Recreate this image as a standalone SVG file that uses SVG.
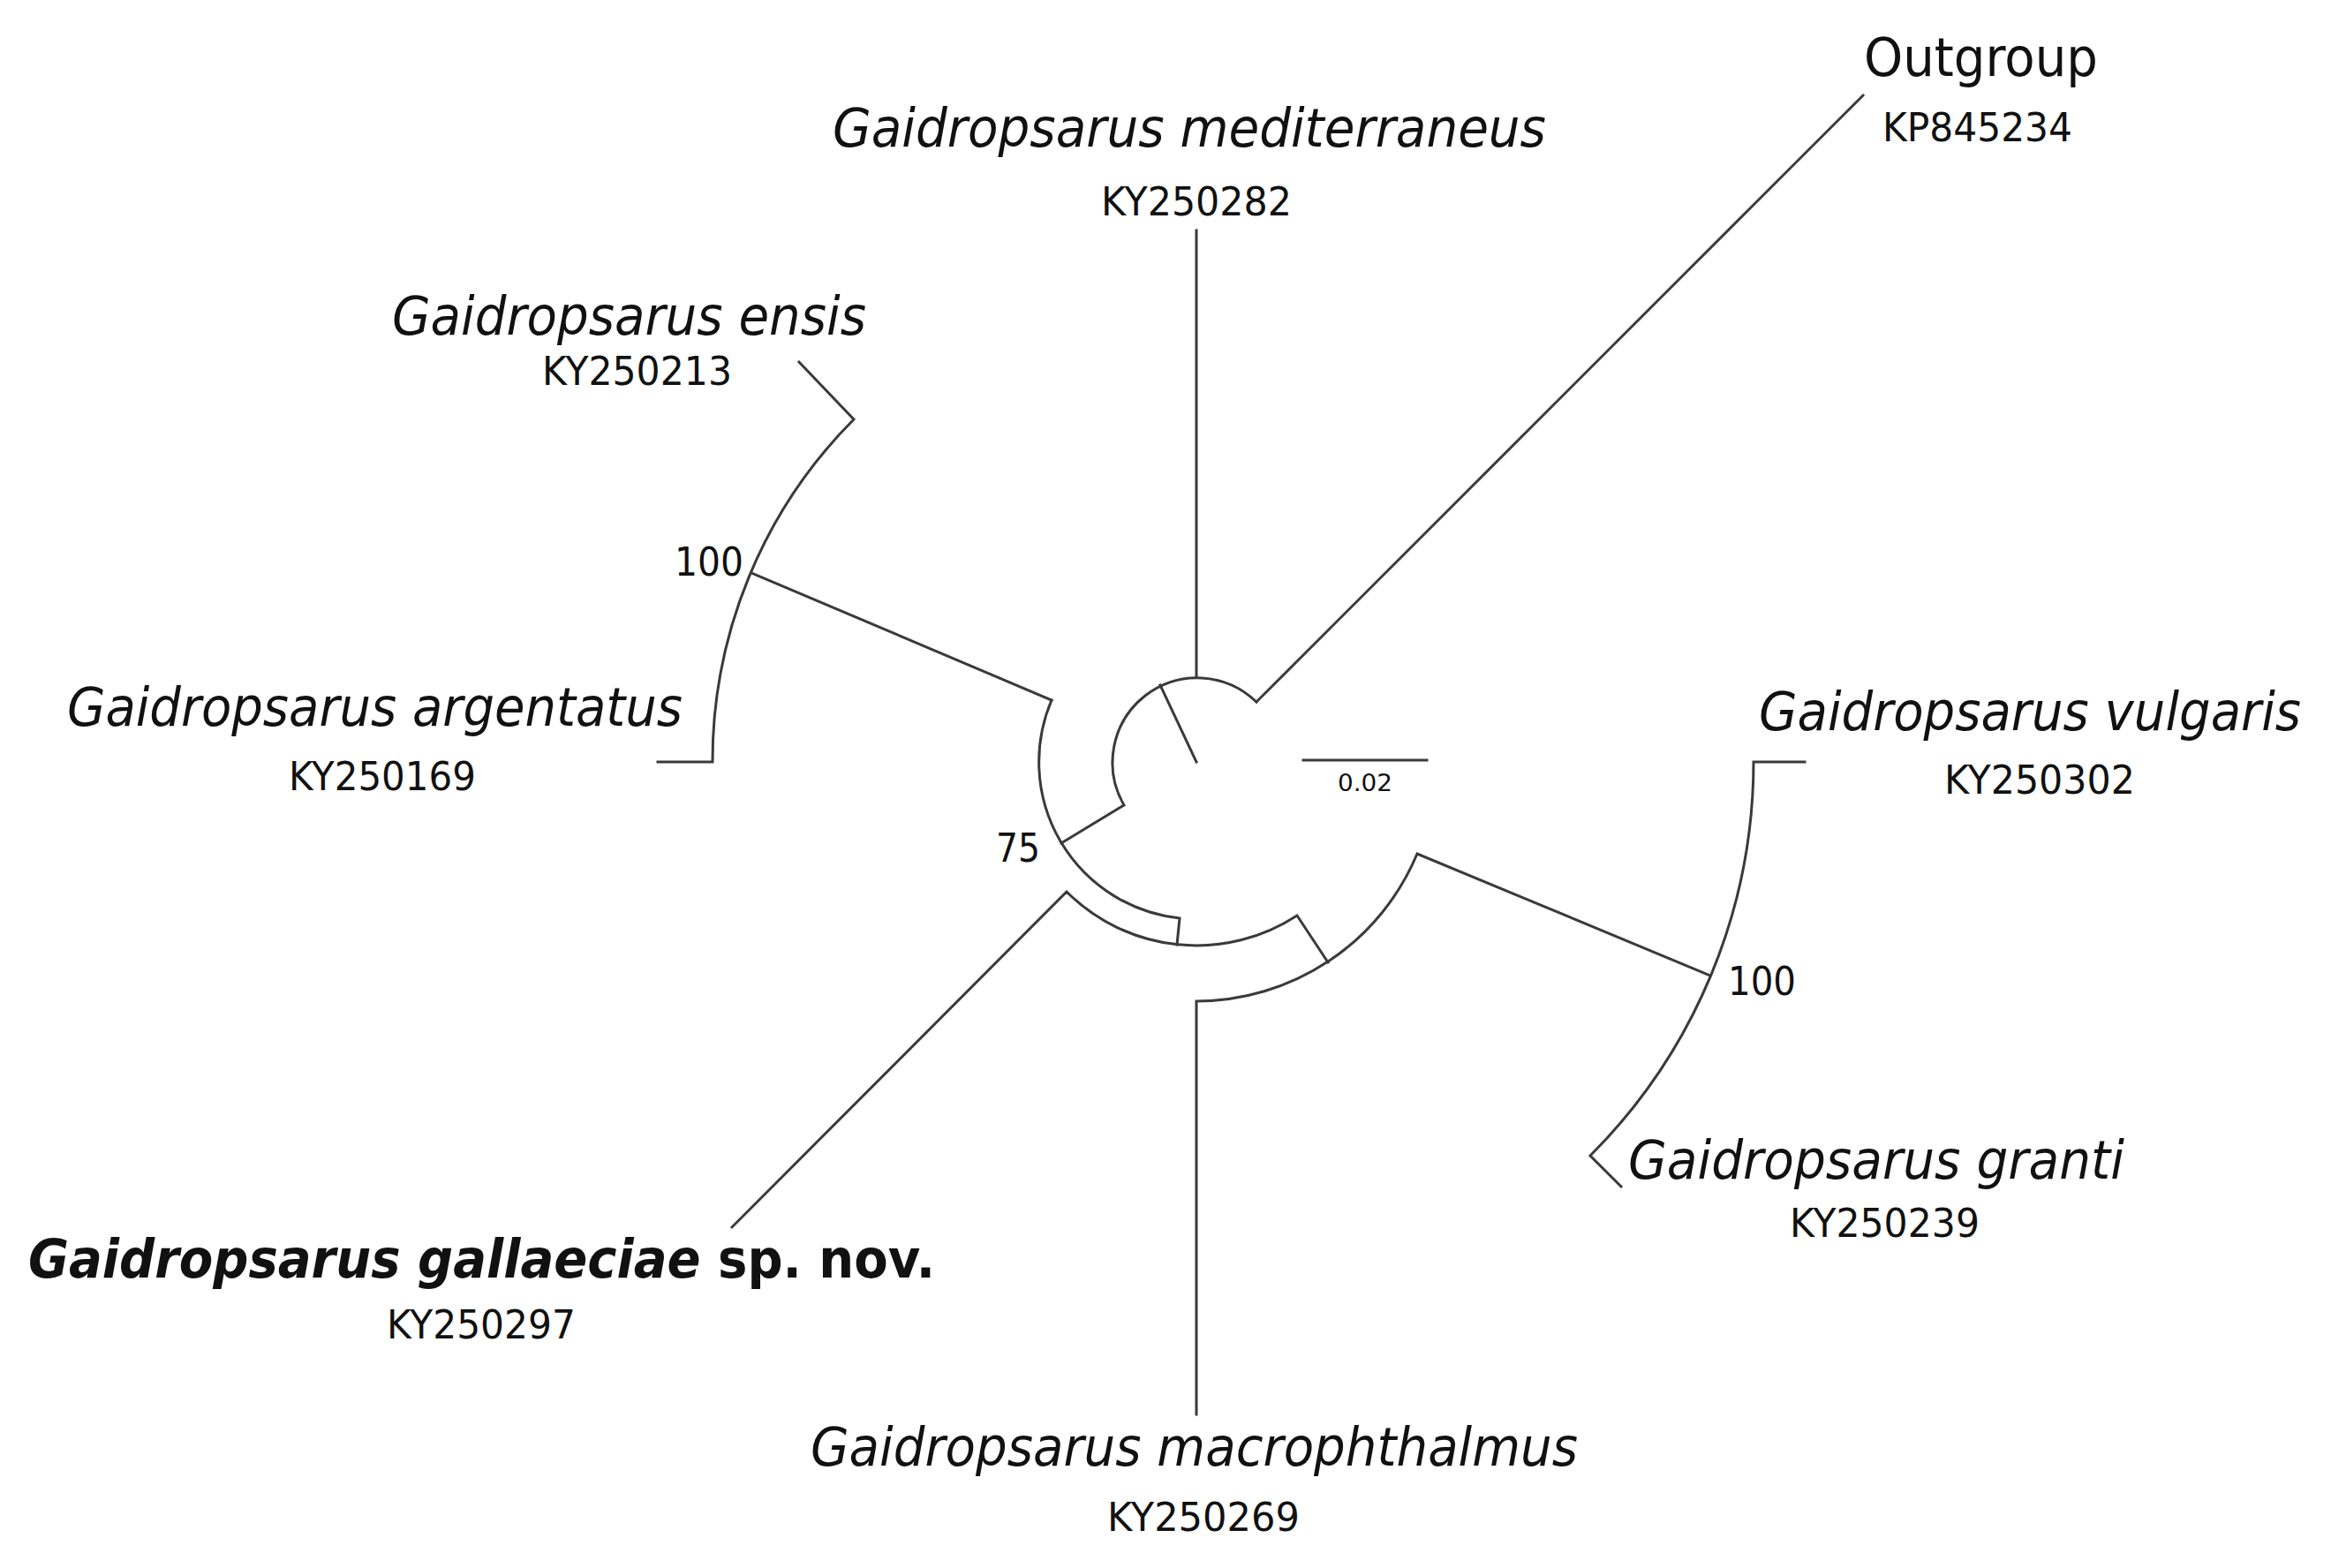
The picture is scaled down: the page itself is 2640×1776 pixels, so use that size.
<svg xmlns="http://www.w3.org/2000/svg" width="2640" height="1776" viewBox="0 0 2640 1776">
<style>
.b{fill:none;stroke:#3a3a3a;stroke-width:3;stroke-linecap:square}
.sp{font-family:"DejaVu Sans",Verdana,sans-serif;font-style:italic;font-size:60px;fill:#111}
.id{font-family:"DejaVu Sans",Verdana,sans-serif;font-size:44px;fill:#111}
.sv{font-family:"DejaVu Sans",Verdana,sans-serif;font-size:44px;fill:#111}
</style>
<rect width="2640" height="1776" fill="#fff"/>
<g id="connectors">
<path class="b" d="M1355,863 L1314,776"/>
<path class="b" d="M1423,795 A96,96 0 0 0 1273,912 L1202,955"/>
<path class="b" d="M1355,767 L1355,261"/>
<path class="b" d="M1423,795 L2110,108"/>
<path class="b" d="M1191,793 A178,178 0 0 0 1336,1040 L1333,1070"/>
<path class="b" d="M1191,793 L851,649"/>
<path class="b" d="M745,863 L807,863 A548,548 0 0 1 967,475 L905,410"/>
<path class="b" d="M829,1390 L1208,1010 A208,208 0 0 0 1469,1037 L1504,1090"/>
<path class="b" d="M1355,1602 L1355,1134 A271,271 0 0 0 1605,967 L1937,1105"/>
<path class="b" d="M2044,863 L1986,863 A631,631 0 0 1 1801,1309 L1836,1344"/>
<path class="b" d="M1476,861 L1616,861"/>
</g>
<g id="n-med"><text class="sp" x="943" y="166" textLength="808" lengthAdjust="spacingAndGlyphs">Gaidropsarus mediterraneus</text><text class="id" x="1247" y="244" textLength="216" lengthAdjust="spacingAndGlyphs">KY250282</text></g>
<g id="n-out"><text class="sp" style="font-style:normal" x="2111" y="86" textLength="265" lengthAdjust="spacingAndGlyphs">Outgroup</text><text class="id" x="2132" y="160" textLength="215" lengthAdjust="spacingAndGlyphs">KP845234</text></g>
<g id="n-ensis"><text class="sp" x="444" y="379" textLength="537" lengthAdjust="spacingAndGlyphs">Gaidropsarus ensis</text><text class="id" x="614" y="436" textLength="215" lengthAdjust="spacingAndGlyphs">KY250213</text></g>
<g id="n-arg"><text class="sp" x="76" y="822" textLength="697" lengthAdjust="spacingAndGlyphs">Gaidropsarus argentatus</text><text class="id" x="327" y="895" textLength="212" lengthAdjust="spacingAndGlyphs">KY250169</text></g>
<g id="n-vul"><text class="sp" x="1992" y="827" textLength="614" lengthAdjust="spacingAndGlyphs">Gaidropsarus vulgaris</text><text class="id" x="2202" y="899" textLength="216" lengthAdjust="spacingAndGlyphs">KY250302</text></g>
<g id="n-gra"><text class="sp" x="1844" y="1335" textLength="562" lengthAdjust="spacingAndGlyphs">Gaidropsarus granti</text><text class="id" x="2027" y="1401" textLength="215" lengthAdjust="spacingAndGlyphs">KY250239</text></g>
<g id="n-gal"><text class="sp" x="32" y="1447" textLength="1027" lengthAdjust="spacingAndGlyphs" font-weight="bold">Gaidropsarus gallaeciae <tspan font-style="normal">sp. nov.</tspan></text><text class="id" x="438" y="1516" textLength="214" lengthAdjust="spacingAndGlyphs">KY250297</text></g>
<g id="n-mac"><text class="sp" x="918" y="1660" textLength="869" lengthAdjust="spacingAndGlyphs">Gaidropsarus macrophthalmus</text><text class="id" x="1254" y="1734" textLength="218" lengthAdjust="spacingAndGlyphs">KY250269</text></g>
<g id="labels">
<text class="sv" x="764" y="652" textLength="78" lengthAdjust="spacingAndGlyphs">100</text>
<text class="sv" x="1128" y="976" textLength="50" lengthAdjust="spacingAndGlyphs">75</text>
<text class="sv" x="1957" y="1127" textLength="77" lengthAdjust="spacingAndGlyphs">100</text>
<text class="sv" style="font-size:26px" x="1515" y="896" textLength="62" lengthAdjust="spacingAndGlyphs">0.02</text>
</g>
</svg>
